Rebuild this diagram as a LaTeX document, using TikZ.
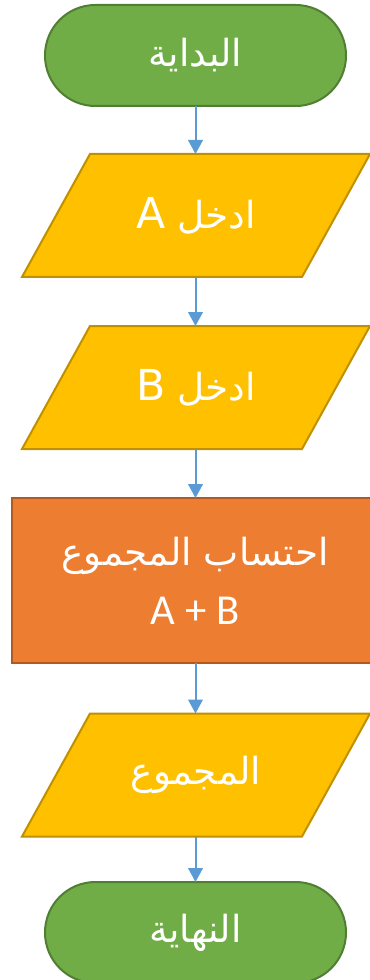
\documentclass[tikz,border=0pt]{standalone}
\usepackage{fontspec}
\setmainfont{Carlito}
\newfontfamily\arabicfont[Script=Arabic]{DejaVu Sans}
\TeXXeTstate=1
\usetikzlibrary{arrows.meta,backgrounds}
\definecolor{tgreen}{HTML}{70AD47}
\definecolor{tgreenD}{HTML}{507E32}
\definecolor{pyellow}{HTML}{FFC000}
\definecolor{pyellowD}{HTML}{BF9000}
\definecolor{porange}{HTML}{ED7D31}
\definecolor{porangeD}{HTML}{AE5A21}
\definecolor{arrowblue}{HTML}{5B9BD5}
\newcommand{\ArTxt}[1]{{\arabicfont\fontsize{28}{44}\selectfont\beginR #1\endR}}
\newcommand{\LaTxt}[1]{{\fontsize{32}{44}\selectfont #1}}
\tikzset{
  termbox/.style={rectangle, rounded corners=37.8pt, fill=tgreen, draw=tgreenD,
    line width=1.5pt, minimum width=225.75pt, minimum height=75.75pt,
    inner sep=0pt, outer sep=0pt, text=white, align=center},
  iobox/.style={rectangle, minimum width=261pt, minimum height=92.25pt,
    inner sep=0pt, outer sep=0pt, text=white, align=center},
  ioshape/.style={fill=pyellow, draw=pyellowD, line width=1.5pt, line join=miter},
  procbox/.style={rectangle, fill=porange, draw=porangeD, line width=1.5pt,
    minimum width=274.5pt, minimum height=123.75pt, inner sep=0pt, outer sep=0pt,
    text=white, align=center, font=\fontsize{30}{44}\selectfont},
  flowarrow/.style={draw=arrowblue, line width=1.5pt,
    -{Triangle[length=10.5pt,width=11pt]}}
}
\newcommand{\ioshapeof}[1]{%
  \draw[ioshape] ([xshift=51pt]#1.north west) -- (#1.north east)
    -- ([xshift=-51pt]#1.south east) -- (#1.south west) -- cycle;}
\begin{document}
\begin{tikzpicture}[x=0.75pt,y=-0.75pt]
\clip (0,0) rectangle (370,980);
\node[termbox] (start) at (195.5,55.5) {\ArTxt{البداية}};
\node[iobox] (inA) at (196,215.5) {\ArTxt{ادخل \beginL\LaTxt{A}\endL}};
\node[iobox] (inB) at (196,387.5) {\ArTxt{ادخل \beginL\LaTxt{B}\endL}};
\node[procbox] (sum) at (195,580.5) {\ArTxt{احتساب المجموع}\\\LaTxt{A + B}};
\node[iobox] (out) at (196,775) {\ArTxt{المجموع}};
\node[termbox] (stop) at (195.5,932.5) {\ArTxt{النهاية}};
\begin{scope}[on background layer]
\ioshapeof{inA}
\ioshapeof{inB}
\ioshapeof{out}
\end{scope}
\draw[flowarrow] (start.south) -- (start.south |- inA.north);
\draw[flowarrow] (inA.south -| start.south) -- (start.south |- inB.north);
\draw[flowarrow] (inB.south -| start.south) -- (start.south |- sum.north);
\draw[flowarrow] (sum.south -| start.south) -- (start.south |- out.north);
\draw[flowarrow] (out.south -| start.south) -- (stop.north);
\end{tikzpicture}
\end{document}
